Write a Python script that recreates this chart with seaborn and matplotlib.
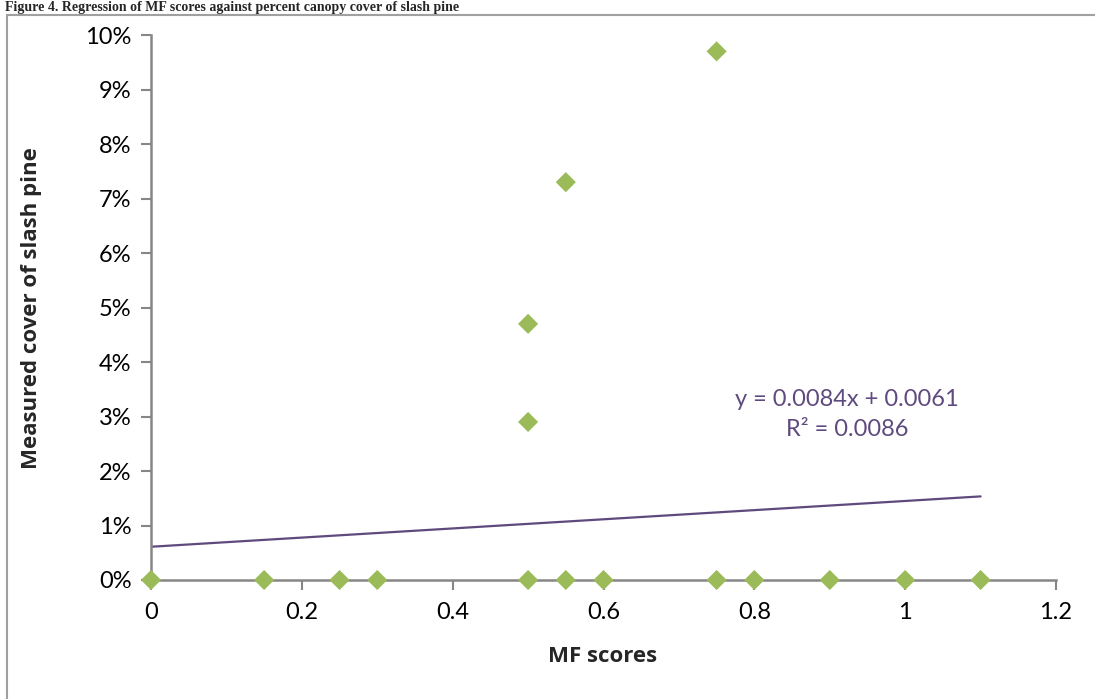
import numpy as np
import pandas as pd
import matplotlib
matplotlib.use("Agg")
import matplotlib.pyplot as plt
import seaborn as sns
from matplotlib.ticker import PercentFormatter, FuncFormatter
from matplotlib.patches import Rectangle

# Data
mf_scores = [0, 0.15, 0.25, 0.3, 0.5, 0.55, 0.6, 0.75, 0.8, 0.9, 1.0, 1.1,
             0.5, 0.5, 0.55, 0.75]
cover = [0, 0, 0, 0, 0, 0, 0, 0, 0, 0, 0, 0,
         0.047, 0.029, 0.073, 0.097]
slope = 0.0084
intercept = 0.0061
r2 = 0.0086
fit_x = [0.0, 1.1]
x_ticks = [0, 0.2, 0.4, 0.6, 0.8, 1.0, 1.2]
y_ticks = [0, 0.01, 0.02, 0.03, 0.04, 0.05, 0.06, 0.07, 0.08, 0.09, 0.10]

df = pd.DataFrame({"MF scores": mf_scores, "cover": cover})

sns.set_theme(style="white")
plt.rcParams['font.family'] = ['Lato', 'DejaVu Sans']

fig = plt.figure(figsize=(10.95, 6.99), dpi=100)
ax = fig.add_axes([151/1095, 1-580/699, (1056-151)/1095, (580-35)/699])

fit_y = [slope * x + intercept for x in fit_x]
ax.plot(fit_x, fit_y, color="#5F4A7E", lw=1.6, zorder=2)

sns.scatterplot(data=df, x="MF scores", y="cover", marker="D", s=105,
                color="#9BBB59", edgecolor="none", linewidth=0, ax=ax, zorder=3,
                clip_on=False)

ax.set_xlim(0, 1.2)
ax.set_ylim(0, 0.10)
ax.set_xticks(x_ticks)
ax.set_yticks(y_ticks)
ax.xaxis.set_major_formatter(FuncFormatter(lambda v, p: "0" if v == 0 else ("1" if abs(v-1) < 1e-9 else f"{v:g}")))
ax.yaxis.set_major_formatter(PercentFormatter(1.0, decimals=0))

for s in ["top", "right"]:
    ax.spines[s].set_visible(False)
for s in ["left", "bottom"]:
    ax.spines[s].set_color("#868686")
    ax.spines[s].set_linewidth(1.8)

ax.tick_params(axis="both", which="major", direction="out", length=7, width=1.5,
               color="#868686", labelsize=17, labelcolor="black",
               left=True, bottom=True)
ax.tick_params(axis="x", pad=9)
ax.tick_params(axis="y", pad=7)

bold_font = dict(family=["Open Sans", "DejaVu Sans"], fontsize=16, fontweight="bold")
ax.set_xlabel("MF scores", **bold_font)
ax.set_ylabel("Measured cover of slash pine", **bold_font)
ax.xaxis.set_label_coords((603-151)/(1056-151), -(656-580)/(580-35))
ax.yaxis.set_label_coords(-(151-32)/(1056-151), (580-308)/(580-35))
ax.xaxis.label.set_va("center")
ax.yaxis.label.set_va("center")

ax.text(0.923, 0.0304, f"y = {slope}x + {intercept}\nR² = {r2}",
        color="#5F4A7E", fontsize=17, ha="center", va="center",
        linespacing=1.55, transform=ax.transData)
ax.grid(False)

# outer border of the chart area
fig.patches.append(Rectangle((7/1095, -0.05), 1.2, 1-15/699+0.05,
                             transform=fig.transFigure, fill=False,
                             edgecolor="#A0A0A0", linewidth=1.5))

# Caption above the chart
fig.text(0.005, 0.999, "Figure 4. Regression of MF scores against percent canopy cover of slash pine",
         fontsize=10, fontweight="bold", family=["Liberation Serif"],
         ha="left", va="top")

fig.savefig("out.png", dpi=100)
